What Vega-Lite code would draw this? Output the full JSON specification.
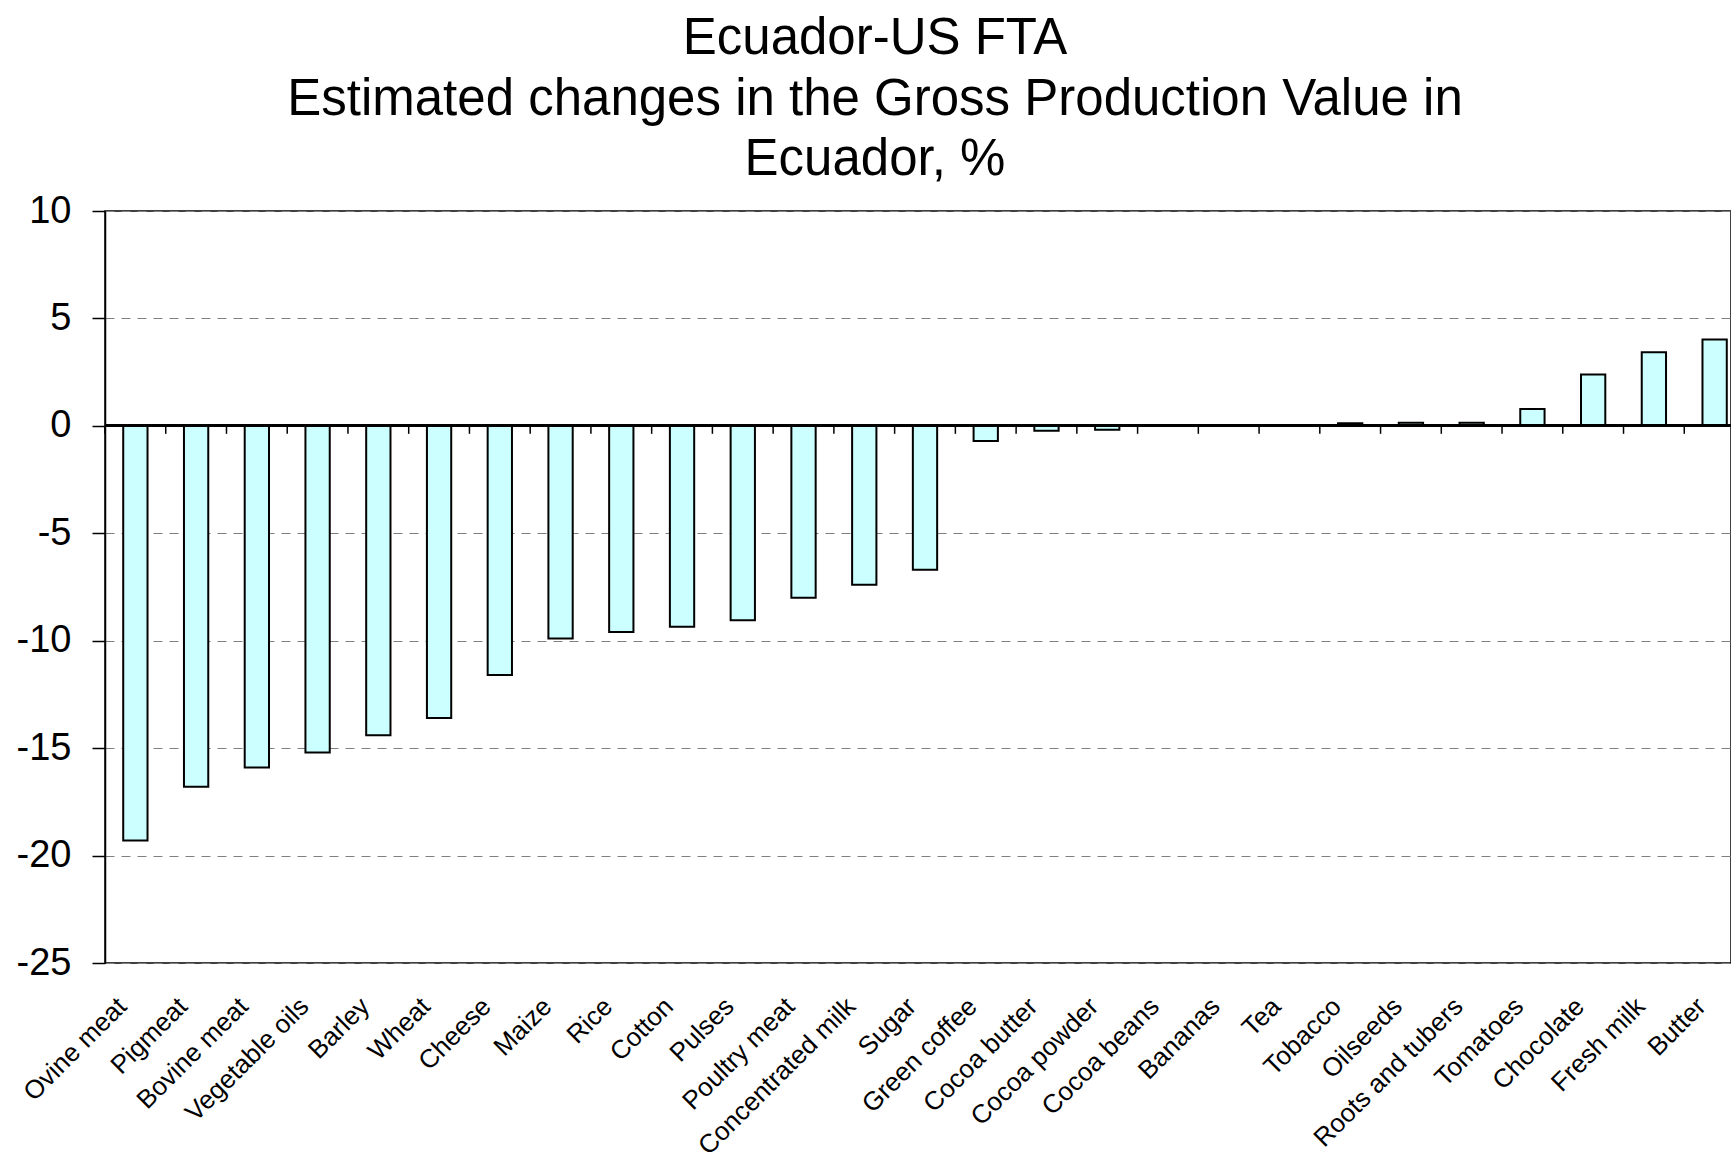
{
  "$schema": "https://vega.github.io/schema/vega-lite/v6.json",
  "width": 1626,
  "height": 752,
  "autosize": {"type": "none"},
  "padding": {"left": 105, "top": 211, "right": 0, "bottom": 191},
  "background": "white",
  "title": {
    "text": ["Ecuador-US FTA", "Estimated changes in the Gross Production Value in", "Ecuador, %"],
    "font": "Liberation Sans",
    "fontSize": 51,
    "fontWeight": "normal",
    "color": "black",
    "lineHeight": 60.5,
    "anchor": "middle",
    "dx": -43,
    "offset": 6
  },
  "config": {
    "view": {"stroke": "black", "strokeWidth": 1.5},
    "font": "Liberation Sans"
  },
  "data": {
    "values": [
      {"product": "Ovine meat", "change": -19.3},
      {"product": "Pigmeat", "change": -16.8},
      {"product": "Bovine meat", "change": -15.9},
      {"product": "Vegetable oils", "change": -15.2},
      {"product": "Barley", "change": -14.4},
      {"product": "Wheat", "change": -13.6},
      {"product": "Cheese", "change": -11.6},
      {"product": "Maize", "change": -9.9},
      {"product": "Rice", "change": -9.6},
      {"product": "Cotton", "change": -9.35},
      {"product": "Pulses", "change": -9.05},
      {"product": "Poultry meat", "change": -8.0},
      {"product": "Concentrated milk", "change": -7.4},
      {"product": "Sugar", "change": -6.7},
      {"product": "Green coffee", "change": -0.7},
      {"product": "Cocoa butter", "change": -0.23},
      {"product": "Cocoa powder", "change": -0.18},
      {"product": "Cocoa beans", "change": 0},
      {"product": "Bananas", "change": 0},
      {"product": "Tea", "change": 0},
      {"product": "Tobacco", "change": 0.12},
      {"product": "Oilseeds", "change": 0.15},
      {"product": "Roots and tubers", "change": 0.15},
      {"product": "Tomatoes", "change": 0.79},
      {"product": "Chocolate", "change": 2.39},
      {"product": "Fresh milk", "change": 3.43},
      {"product": "Butter", "change": 4.02}
    ]
  },
  "layer": [
    {
      "mark": {"type": "bar", "fill": "#CCFFFF", "stroke": "black", "strokeWidth": 2},
      "encoding": {
        "x": {
          "field": "product",
          "type": "nominal",
          "sort": null,
          "scale": {"range": [0, 1640], "paddingInner": 0.6, "paddingOuter": 0.3},
          "axis": {
            "title": null,
            "domain": false,
            "ticks": false,
            "labelAngle": -45,
            "labelAlign": "right",
            "labelBaseline": "middle",
            "labelFontSize": 26,
            "labelColor": "black",
            "labelPadding": 39,
            "labelOffset": -13,
            "labelOverlap": false,
            "labelLimit": 0,
            "labelBound": false
          }
        },
        "y": {
          "field": "change",
          "type": "quantitative",
          "scale": {"domain": [-25, 10], "nice": false, "zero": false},
          "axis": {
            "title": null,
            "values": [10, 5, 0, -5, -10, -15, -20, -25],
            "labelExpr": "datum.value + ''",
            "domain": true,
            "domainColor": "black",
            "domainWidth": 1.5,
            "ticks": true,
            "tickSize": 13,
            "tickColor": "black",
            "tickWidth": 1.5,
            "labelFontSize": 38,
            "labelColor": "black",
            "labelPadding": 21,
            "grid": true,
            "gridColor": "#808080",
            "gridDash": [9, 7],
            "gridWidth": 1.2
          }
        }
      }
    },
    {
      "mark": {"type": "rule", "stroke": "black", "strokeWidth": 2},
      "encoding": {"y": {"datum": 0}}
    },
    {
      "mark": {"type": "rule", "stroke": "black", "strokeWidth": 1.5},
      "encoding": {
        "x": {"field": "product", "type": "nominal", "sort": null, "bandPosition": -0.75},
        "y": {"datum": 0},
        "y2": {"datum": -0.37}
      }
    }
  ]
}
